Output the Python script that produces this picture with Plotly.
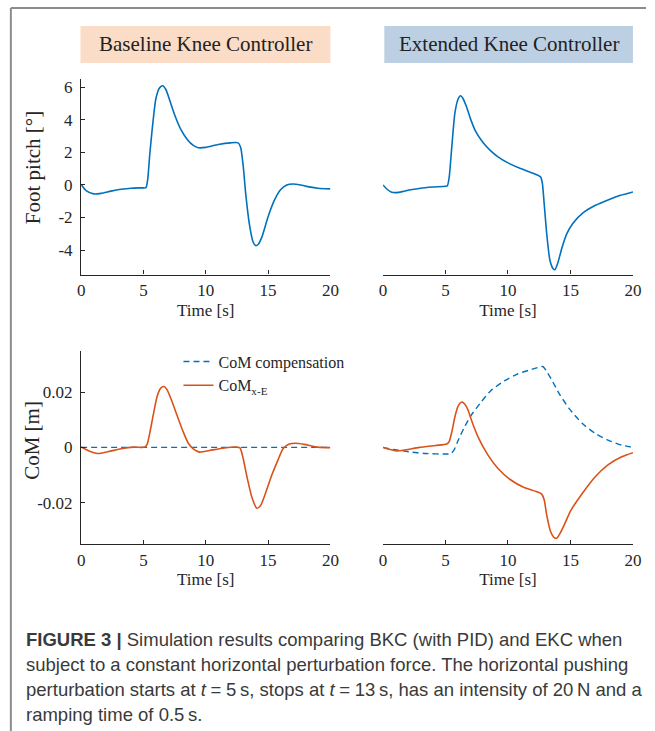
import plotly.graph_objects as go

# ---------------- data ----------------
t_bkc_pitch = [0, 0.4, 1.0, 1.6, 2.4, 3.2, 4.0, 4.9, 5.2, 5.35, 5.5, 5.7, 6.0, 6.3, 6.55, 6.8, 7.1, 7.5,
               8.0, 8.5, 9.0, 9.4, 10.0, 11.0, 12.0, 12.6, 12.8, 13.0, 13.2, 13.5, 13.8, 14.0, 14.2, 14.5,
               15.0, 15.5, 16.0, 16.5, 17.0, 17.6, 18.3, 19.0, 20.0]
bkc_pitch = [0.02, -0.35, -0.55, -0.52, -0.38, -0.27, -0.2, -0.18, -0.17, 0.4, 1.8, 3.4, 5.3, 5.95, 6.08,
             5.85, 5.2, 4.3, 3.4, 2.8, 2.42, 2.28, 2.3, 2.48, 2.58, 2.58, 2.3, 1.2, -0.5, -2.4, -3.5, -3.72,
             -3.65, -3.2, -1.95, -0.95, -0.3, 0.0, 0.06, 0.0, -0.12, -0.2, -0.24]

t_ekc_pitch = [0, 0.3, 0.7, 1.1, 1.6, 2.2, 3.0, 4.0, 5.0, 5.15, 5.3, 5.5, 5.75, 6.0, 6.2, 6.4, 6.7, 7.0,
               7.4, 8.0, 8.6, 9.2, 10.0, 11.0, 12.0, 12.6, 12.75, 12.9, 13.1, 13.35, 13.6, 13.75, 14.0,
               14.3, 14.7, 15.2, 16.0, 17.0, 18.0, 19.0, 20.0]
ekc_pitch = [0.0, -0.25, -0.45, -0.47, -0.4, -0.3, -0.2, -0.13, -0.08, -0.05, 0.5, 2.3, 4.4, 5.25, 5.47,
             5.3, 4.75, 4.05, 3.3, 2.6, 2.1, 1.72, 1.35, 1.0, 0.72, 0.5, 0.1, -1.2, -3.0, -4.6, -5.12,
             -5.2, -4.75, -3.9, -3.0, -2.35, -1.72, -1.25, -0.92, -0.64, -0.43]

t_bkc_com = [0, 0.6, 1.3, 2.2, 3.2, 4.2, 5.1, 5.3, 5.5, 5.8, 6.1, 6.4, 6.65, 6.9, 7.3, 7.7, 8.2, 8.6, 9.0,
             9.5, 10.3, 11.5, 12.5, 12.75, 13.0, 13.3, 13.7, 14.1, 14.4, 14.8, 15.3, 15.8, 16.2, 16.7,
             17.2, 17.9, 19.0, 20.0]
bkc_com = [0.0002, -0.0012, -0.0022, -0.0015, -0.0005, 0.0001, 0.0001, 0.0012, 0.005, 0.012, 0.0185,
           0.0215, 0.022, 0.0208, 0.0165, 0.0115, 0.0055, 0.0015, -0.0005, -0.0017, -0.0011, -0.0002,
           0.0001, -0.0002, -0.004, -0.0105, -0.018, -0.022, -0.021, -0.0165, -0.01, -0.0045, -0.0005,
           0.0012, 0.0015, 0.0011, 0.0001, -0.0001]

t_bkc_comp = [0, 20]
bkc_comp = [0.0, 0.0]

t_ekc_com = [0, 0.5, 1.05, 1.8, 2.9, 4.2, 5.1, 5.3, 5.5, 5.75, 6.0, 6.3, 6.55, 6.8, 7.1, 7.6, 8.4, 9.2,
             10.2, 11.25, 12.3, 12.7, 12.9, 13.1, 13.4, 13.7, 13.9, 14.2, 14.6, 15.0, 16.0, 17.0, 18.0,
             19.1, 20.0]
ekc_com = [0.0, -0.0007, -0.0013, -0.0009, 0.0, 0.0007, 0.0012, 0.0022, 0.0055, 0.011, 0.0148, 0.0164,
           0.0156, 0.0135, 0.0095, 0.0038, -0.0028, -0.0076, -0.0117, -0.0144, -0.016, -0.0169, -0.019,
           -0.0245, -0.0303, -0.0326, -0.0328, -0.0308, -0.027, -0.023, -0.0163, -0.0105, -0.0063,
           -0.0034, -0.0019]

t_ekc_comp = [0, 0.8, 2.1, 3.4, 5.2, 5.45, 5.7, 6.0, 6.5, 7.05, 7.85, 8.6, 9.7, 10.7, 11.75, 12.5, 12.8,
              13.05, 13.45, 14.1, 14.9, 15.95, 17.0, 18.0, 19.1, 20.0]
ekc_comp = [0.0, -0.0007, -0.0016, -0.0022, -0.0024, -0.0022, -0.0008, 0.0024, 0.0072, 0.0116, 0.0164,
            0.0204, 0.024, 0.0264, 0.028, 0.029, 0.0292, 0.0278, 0.0248, 0.0194, 0.014, 0.0086, 0.005,
            0.0026, 0.0008, 0.0]

x_ticks = [0, 5, 10, 15, 20]
pitch_ticks = [-4, -2, 0, 2, 4, 6]
pitch_ticktext = ["-4", "-2", "0", "2", "4", "6"]
com_ticks = [-0.02, 0, 0.02]
com_ticktext = ["-0.02", "0", "0.02"]

panel_titles = ["Baseline Knee Controller", "Extended Knee Controller"]
legend_names = ["CoM compensation", "CoM<sub>x-E</sub>"]
caption_lines = [
    "<b>FIGURE 3 |</b> Simulation results comparing BKC (with PID) and EKC when",
    "subject to a constant horizontal perturbation force. The horizontal pushing",
    "perturbation starts at <i>t</i>\u2005=\u20055\u2009s, stops at <i>t</i>\u2005=\u200513\u2009s, "
    "has an intensity of 20\u2009N and a",
    "ramping time of 0.5\u2009s.",
]

# ---------------- styling ----------------
W, H = 655, 731
BLUE = "#0072BD"
ORANGE = "#D95319"
SERIF = "Liberation Serif"
SANS = "Liberation Sans"
AX = "#262626"


def px(x):
    return x / W


def py(y):
    return 1 - y / H


fig = go.Figure()
line_kw = dict(shape="spline", smoothing=0.6, width=1.6)

fig.add_trace(go.Scatter(x=t_bkc_pitch, y=bkc_pitch, mode="lines", line=dict(color=BLUE, **line_kw),
                         xaxis="x", yaxis="y", showlegend=False))
fig.add_trace(go.Scatter(x=t_ekc_pitch, y=ekc_pitch, mode="lines", line=dict(color=BLUE, **line_kw),
                         xaxis="x2", yaxis="y2", showlegend=False))
fig.add_trace(go.Scatter(x=t_bkc_comp, y=bkc_comp, mode="lines", name=legend_names[0],
                         line=dict(color=BLUE, width=1.4, dash="6px,4px"), xaxis="x3", yaxis="y3"))
fig.add_trace(go.Scatter(x=t_bkc_com, y=bkc_com, mode="lines", name=legend_names[1],
                         line=dict(color=ORANGE, **line_kw), xaxis="x3", yaxis="y3"))
fig.add_trace(go.Scatter(x=t_ekc_comp, y=ekc_comp, mode="lines", showlegend=False,
                         line=dict(color=BLUE, width=1.4, dash="6px,4px", shape="spline", smoothing=0.6),
                         xaxis="x4", yaxis="y4"))
fig.add_trace(go.Scatter(x=t_ekc_com, y=ekc_com, mode="lines", showlegend=False,
                         line=dict(color=ORANGE, **line_kw), xaxis="x4", yaxis="y4"))

tickfont = dict(family=SERIF, size=17, color=AX)
xcommon = dict(range=[0, 20], tickvals=x_ticks, showline=True, linecolor=AX, linewidth=1.3,
               ticks="inside", ticklen=4, tickwidth=1, tickcolor=AX, tickfont=tickfont,
               showgrid=False, zeroline=False, fixedrange=True,
               title=dict(text="Time [s]", font=dict(family=SERIF, size=17, color=AX), standoff=4))
ycommon = dict(showline=True, linecolor=AX, linewidth=1.3, ticks="inside", ticklen=4, tickwidth=1,
               tickcolor=AX, tickfont=tickfont, showgrid=False, zeroline=False, fixedrange=True,
               ticklabelstandoff=4)

top_dom = [py(274), py(78)]
bot_dom = [py(544), py(350)]
left_dom = [px(78.7), px(333)]
right_dom = [px(386.7), px(641.7)]

fig.update_layout(
    width=W, height=H,
    margin=dict(l=0, r=0, t=0, b=0),
    paper_bgcolor="white", plot_bgcolor="rgba(0,0,0,0)",
    xaxis=dict(domain=left_dom, anchor="y", **xcommon),
    yaxis=dict(domain=top_dom, anchor="x", range=[-5.5, 6.5], tickvals=pitch_ticks,
               ticktext=pitch_ticktext, **ycommon),
    xaxis2=dict(domain=right_dom, anchor="y2", **xcommon),
    yaxis2=dict(domain=top_dom, anchor="x2", range=[-5.5, 6.5], visible=False, fixedrange=True),
    xaxis3=dict(domain=left_dom, anchor="y3", **xcommon),
    yaxis3=dict(domain=bot_dom, anchor="x3", range=[-0.035, 0.035], tickvals=com_ticks,
                ticktext=com_ticktext, **ycommon),
    xaxis4=dict(domain=right_dom, anchor="y4", **xcommon),
    yaxis4=dict(domain=bot_dom, anchor="x4", range=[-0.035, 0.035], visible=False, fixedrange=True),
    legend=dict(x=px(178), y=py(344), xanchor="left", yanchor="top", bgcolor="rgba(0,0,0,0)",
                font=dict(family=SERIF, size=16, color=AX), itemwidth=30, tracegroupgap=0),
)

shapes = [
    dict(type="rect", xref="paper", yref="paper", x0=px(78), x1=px(333), y0=py(62), y1=py(25),
         fillcolor="#FBDCC7", line=dict(width=0), layer="below"),
    dict(type="rect", xref="paper", yref="paper", x0=px(388), x1=px(641.7), y0=py(62), y1=py(25),
         fillcolor="#BDD0E3", line=dict(width=0), layer="below"),
    dict(type="line", xref="paper", yref="paper", x0=px(7), x1=1, y0=py(7), y1=py(7),
         line=dict(color="#8c8c8c", width=2)),
    dict(type="line", xref="paper", yref="paper", x0=px(7), x1=px(7), y0=py(7), y1=0,
         line=dict(color="#8c8c8c", width=2)),
]
fig.update_layout(shapes=shapes)

annotations = [
    dict(text=panel_titles[0], x=px(205.5), y=py(43.5), xref="paper", yref="paper", showarrow=False,
         xanchor="center", yanchor="middle", font=dict(family=SERIF, size=21, color="#222222")),
    dict(text=panel_titles[1], x=px(515), y=py(43.5), xref="paper", yref="paper", showarrow=False,
         xanchor="center", yanchor="middle", font=dict(family=SERIF, size=21, color="#222222")),
    dict(text="Foot pitch [°]", x=px(29), y=py(167), xref="paper", yref="paper", showarrow=False,
         textangle=-90, xanchor="center", yanchor="middle", font=dict(family=SERIF, size=21, color=AX)),
    dict(text="CoM [m]", x=px(29), y=py(440), xref="paper", yref="paper", showarrow=False,
         textangle=-90, xanchor="center", yanchor="middle", font=dict(family=SERIF, size=21, color=AX)),
]
cap_y = [639, 664, 689, 714]
for line, yy in zip(caption_lines, cap_y):
    annotations.append(dict(text=line, x=px(20), y=py(yy), xref="paper", yref="paper", showarrow=False,
                            xanchor="left", yanchor="middle", align="left",
                            font=dict(family=SANS, size=18.5, color="#3a3a3a")))
fig.update_layout(annotations=annotations)

fig.write_html("out.html", config={"displayModeBar": False},
               post_script="document.body.style.margin='0';document.body.style.overflow='hidden';")
